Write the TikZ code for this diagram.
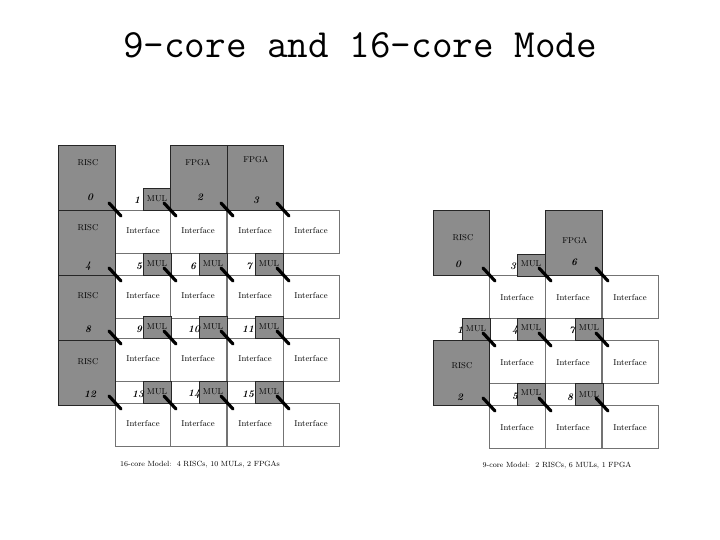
\documentclass[tikz,border=0pt]{standalone}
\begin{document}
\begin{tikzpicture}[x=1pt,y=-1pt,
 tile/.style={draw=black!85,fill=black!45,line width=0.6pt},
 iface/.style={draw=black!55,fill=white,line width=0.6pt},
 lbl/.style={font=\fontsize{8.5}{8.5}\selectfont,inner sep=0pt},
 num/.style={font=\fontsize{10}{10}\selectfont\bfseries\itshape,inner sep=0pt},
 slash/.style={line width=3.2pt,line cap=round,black}]
\useasboundingbox (0,0) rectangle (720,540);
\node[font=\fontsize{40}{40}\selectfont\ttfamily] (title) at (360,45) {9-core and 16-core Mode};
% ---------- left: 16 core ----------
\foreach \c/\x in {0/115,1/170,2/227,3/283}{
 \foreach \r/\y in {0/210,1/275,2/338,3/403}{
  \draw[iface] (\x,\y) rectangle ++(56,43);
  \node[lbl] (Li\r\c) at (\x+28,\y+21) {Interface};
 }}
\foreach \y/\n in {145/0,210/4,275/8,340/12}{
 \draw[tile] (58,\y) rectangle (115,\y+65);}
\draw[tile] (170,145) rectangle (227,210);
\draw[tile] (227,145) rectangle (283,210);
\draw[tile] (143,188) rectangle (170,210);
\foreach \y in {253,316,381}{
 \foreach \x in {143,199,255}{\draw[tile] (\x,\y) rectangle (\x+28,\y+22);}}
\node[lbl] (LR0) at (88,163) {RISC};
\node[lbl] (LR4) at (88,228) {RISC};
\node[lbl] (LR8) at (88,296) {RISC};
\node[lbl] (LR12) at (88,362) {RISC};
\node[lbl] (LF2) at (198,163) {FPGA};
\node[lbl] (LF3) at (256,160) {FPGA};
\node[lbl] (LM1) at (157,199) {MUL};
\foreach \y/\r in {264/1,327/2,392/3}{
 \foreach \x/\c in {157/1,213/2,269/3}{\node[lbl] (LM\r\c) at (\x,\y) {MUL};}}
\foreach \t/\x/\y in {0/90/197,1/137/200,2/200/197,3/256/200,
 4/88/266,5/139/266,6/193/266,7/249/266,
 8/88/329,9/139/329,10/194/329,11/248/329,
 12/90/394,13/138/394,14/194/394,15/248/394}{
 \node[num] (Ln\t) at (\x,\y) {\t};}
\foreach \x in {115,170,227,283}{
 \foreach \y in {210,275,338,403}{\draw[slash] (\x-6,\y-7) -- (\x+6,\y+6);}}
\node[lbl,font=\fontsize{7.5}{7.5}\selectfont] (Lcap) at (200,465) {16-core Model:\ \ 4 RISCs, 10 MULs, 2 FPGAs};
% ---------- right: 9 core ----------
\foreach \c/\x in {0/489,1/545,2/602}{
 \foreach \r/\y in {0/275,1/340,2/405}{
  \draw[iface] (\x,\y) rectangle ++(56.5,43);
  \node[lbl] (Ri\r\c) at (\x+28,\y+23) {Interface};
 }}
\draw[tile] (433,210) rectangle (489,275);
\draw[tile] (545,210) rectangle (602,275);
\draw[tile] (433,340) rectangle (489,405);
\foreach \x/\y in {517/254,462/318,517/318,575/318,517/383,575/383}{
 \draw[tile] (\x,\y) rectangle (\x+28,\y+22);}
\node[lbl] (RR0) at (463,238) {RISC};
\node[lbl] (RF6) at (575,241) {FPGA};
\node[lbl] (RR2) at (462,366) {RISC};
\foreach \x/\y/\k in {531/264/3,476/329/1,531/328/4,589/328/7,531/393/5,589/395/8}{
 \node[lbl] (RM\k) at (\x,\y) {MUL};}
\foreach \t/\x/\y in {0/458/264,3/513/266,6/574/262,1/460/330,4/515/330,7/572/330,2/460/397,5/515/396,8/570/397}{
 \node[num] (Rn\t) at (\x,\y) {\t};}
\foreach \x in {489,545,602}{
 \foreach \y in {275,340,405}{\draw[slash] (\x-6,\y-7) -- (\x+6,\y+6);}}
\node[lbl,font=\fontsize{7.5}{7.5}\selectfont] (Rcap) at (557,466) {9-core Model:\ \ 2 RISCs, 6 MULs, 1 FPGA};
\end{tikzpicture}
\end{document}
